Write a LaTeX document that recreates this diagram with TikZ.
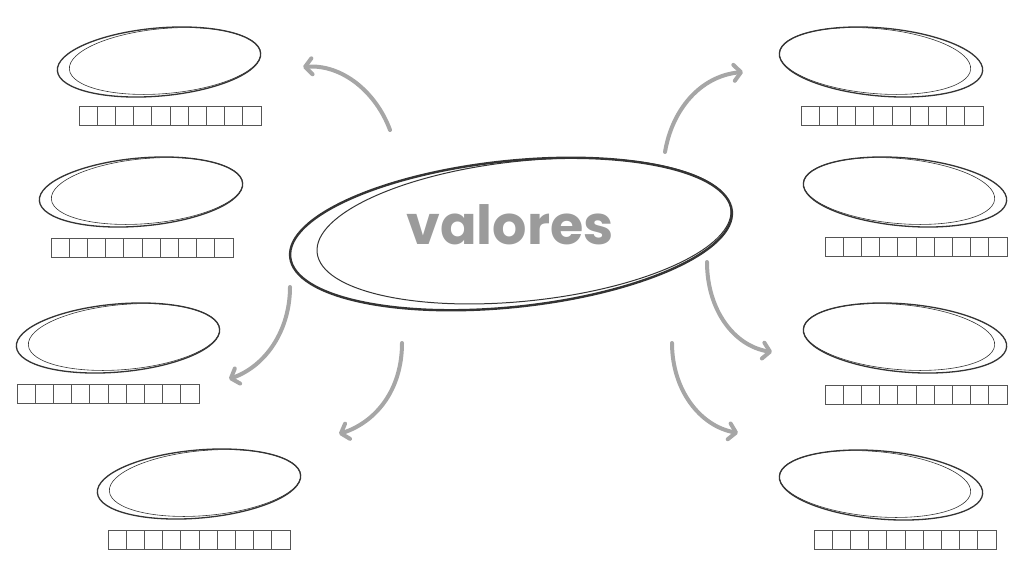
\documentclass[tikz,border=0pt]{standalone}
\usepackage{fontspec}
\newfontfamily\titlefont{Poppins}
\usetikzlibrary{shapes.geometric, arrows.meta, positioning}
\definecolor{ink}{HTML}{333333}
\definecolor{boxline}{HTML}{555555}
\definecolor{arrowgray}{HTML}{A6A6A6}
\definecolor{textgray}{HTML}{9B9B9B}
\tikzset{
  bubble/.style={ellipse, draw=ink, line width=1.3pt, minimum width=204pt, minimum height=68pt, inner sep=0pt},
  bubblein/.style={ellipse, draw=ink, line width=0.6pt, minimum width=192pt, minimum height=65pt, inner sep=0pt},
  link/.style={draw=arrowgray, line width=4pt, line cap=round, -{Straight Barb[length=7pt, width=16pt, round]}},
  cell/.style={draw=boxline, line width=0.8pt}
}
\begin{document}
\begin{tikzpicture}[x=1pt, y=-1pt]
    \useasboundingbox (0,0) rectangle (1024,576);
    % Centre
    \node[bubble, line width=2.4pt, minimum width=444pt, minimum height=146pt, rotate=6] (Valores) at (511,234) {};
    \node[bubblein, line width=1pt, minimum width=416pt, minimum height=140pt, rotate=6] (ValoresIn) at ([xshift=13pt, yshift=3pt]Valores.center) {};
    \node[font=\titlefont\bfseries\fontsize{54}{54}\selectfont, text=textgray] (Title) at (510,225) {valores};

    % Left bubbles
    \foreach \n/\x/\y in {1/159/62, 2/141/192, 3/118/338, 4/199/484} {
        \node[bubble, rotate=5] (Left\n) at (\x,\y) {};
        \node[bubblein, rotate=5] (Left\n in) at ([xshift=6pt, yshift=1pt]Left\n.center) {};
    }
    % Right bubbles
    \foreach \n/\x/\y in {1/881/62, 2/905/192, 3/905/338, 4/881/485} {
        \node[bubble, rotate=-5] (Right\n) at (\x,\y) {};
        \node[bubblein, rotate=-5] (Right\n in) at ([xshift=-6pt, yshift=1pt]Right\n.center) {};
    }

    % Box rows
    \foreach \bx/\by in {79/106, 51/238, 17/384, 108/530, 801/106, 825/237, 825/385, 814/530}
        \foreach \i in {0,...,9}
            \draw[cell] (\bx+\i*18.2, \by) rectangle ++(18.2, 19);

    % Links
    \coordinate (L1s) at (390,130); \coordinate (L1e) at (303,67);
    \coordinate (L2s) at (290,287); \coordinate (L2e) at (229,379);
    \coordinate (L3s) at (402,343); \coordinate (L3e) at (339,434);
    \coordinate (R1s) at (665,152); \coordinate (R1e) at (743,72);
    \coordinate (R2s) at (707,262); \coordinate (R2e) at (772,352);
    \coordinate (R3s) at (672,343); \coordinate (R3e) at (738,433);
    \draw[link] (L1s) .. controls (376,92) and (342,64) .. (L1e);
    \draw[link] (L2s) .. controls (290,330) and (266,366) .. (L2e);
    \draw[link] (L3s) .. controls (402,390) and (376,422) .. (L3e);
    \draw[link] (R1s) .. controls (672,110) and (700,76) .. (R1e);
    \draw[link] (R2s) .. controls (707,310) and (734,346) .. (R2e);
    \draw[link] (R3s) .. controls (672,390) and (700,426) .. (R3e);
\end{tikzpicture}
\end{document}
